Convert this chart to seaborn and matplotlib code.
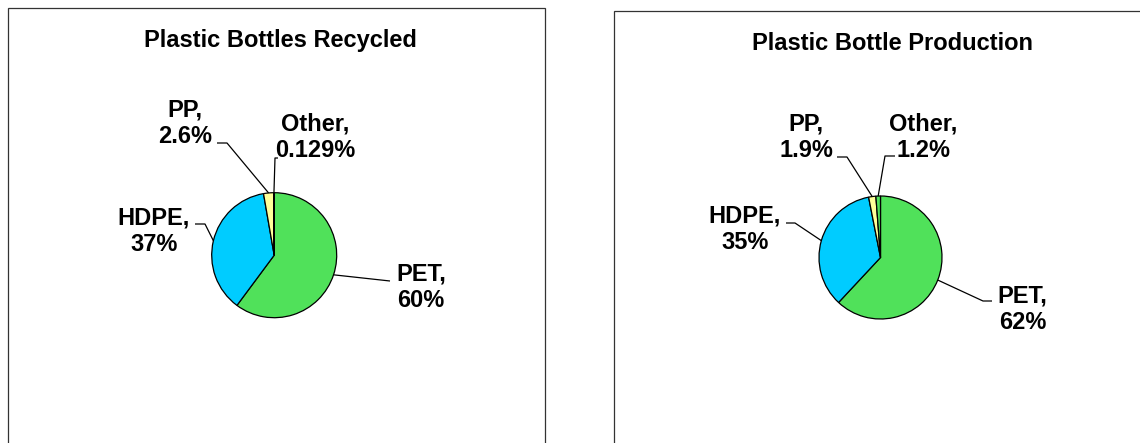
import numpy as np
import matplotlib
matplotlib.use("Agg")
import matplotlib.pyplot as plt
from matplotlib.patches import Rectangle
import seaborn as sns

# ---------------- data ----------------
categories = ["PET", "HDPE", "PP", "Other"]
recycled = [60, 37, 2.6, 0.129]
production = [62, 35, 1.9, 1.2]
recycled_labels = ["60%", "37%", "2.6%", "0.129%"]
production_labels = ["62%", "35%", "1.9%", "1.2%"]
titles = ["Plastic Bottles Recycled", "Plastic Bottle Production"]
slice_colors = ["#50E15A", "#00CCFF", "#FFFF99", "#50E15A"]

# ---------------- style ----------------
sns.set_theme(style="white")
plt.rcParams['font.family'] = ['Liberation Sans', 'DejaVu Sans']
plt.rcParams['font.weight'] = 'bold'

W, H = 1140, 443
fig = plt.figure(figsize=(W / 100, H / 100), dpi=100)
fig.patch.set_facecolor("white")

FS = 17

# layout (pixel positions, y measured from top)
panels = [
    dict(values=recycled, pcts=recycled_labels, title=titles[0],
         cx=274.2, cy=255.2, r=62.5,
         title_xy=(280.5, 47),
         box=(7.5, 8, 544.5),
         labels=[(421, 287), (154, 231), (185, 123), (315, 137)],
         elbows=[[(390, 281)],
                 [(205, 224), (195, 224)],
                 [(227, 143), (217, 143)],
                 [(275, 158), (278, 158)]]),
    dict(values=production, pcts=production_labels, title=titles[1],
         cx=880.5, cy=257.5, r=61.5,
         title_xy=(892, 50),
         box=(614, 11, 1150),
         labels=[(1022.5, 309), (745, 229), (806, 137), (923, 137)],
         elbows=[[(983, 301), (992, 301)],
                 [(795, 223), (786, 223)],
                 [(847, 157), (837, 157)],
                 [(885, 156), (895, 156)]]),
]

for p in panels:
    cx, cy, r = p["cx"], p["cy"], p["r"]
    ax = fig.add_axes([0, 0, 1, 1])
    ax.patch.set_alpha(0)
    wedges, _ = ax.pie(p["values"], colors=slice_colors, startangle=90,
                       counterclock=False, radius=1, center=(0, 0),
                       wedgeprops=dict(edgecolor="black", linewidth=0.9))
    ax.set_aspect("auto")
    ax.set_xlim((0 - cx) / r, (W - cx) / r)
    ax.set_ylim((cy - H) / r, cy / r)
    ax.axis("off")

    def to_data(pt):
        return ((pt[0] - cx) / r, (cy - pt[1]) / r)

    for i, w in enumerate(wedges):
        mid = np.deg2rad((w.theta1 + w.theta2) / 2)
        sx, sy = np.cos(mid), np.sin(mid)
        pts = [(sx, sy)] + [to_data(e) for e in p["elbows"][i]]
        xs, ys = zip(*pts)
        ax.plot(xs, ys, color="black", lw=0.9, solid_capstyle="butt")
        lx, ly = to_data(p["labels"][i])
        ax.text(lx, ly, f"{categories[i]},\n{p['pcts'][i]}", ha="center",
                va="center", multialignment="center", fontsize=FS,
                fontweight="bold", color="black", linespacing=1.2)

    tx, ty = p["title_xy"]
    fig.text(tx / W, 1 - ty / H, p["title"], ha="center", va="baseline",
             fontsize=FS, fontweight="bold", color="black")

    x0, top, x1 = p["box"]
    fig.add_artist(Rectangle((x0 / W, -20 / H), (x1 - x0) / W, (H - top + 20) / H,
                             transform=fig.transFigure, fill=False,
                             edgecolor="#333333", linewidth=0.9))

fig.savefig("out.png", dpi=100, facecolor="white")
